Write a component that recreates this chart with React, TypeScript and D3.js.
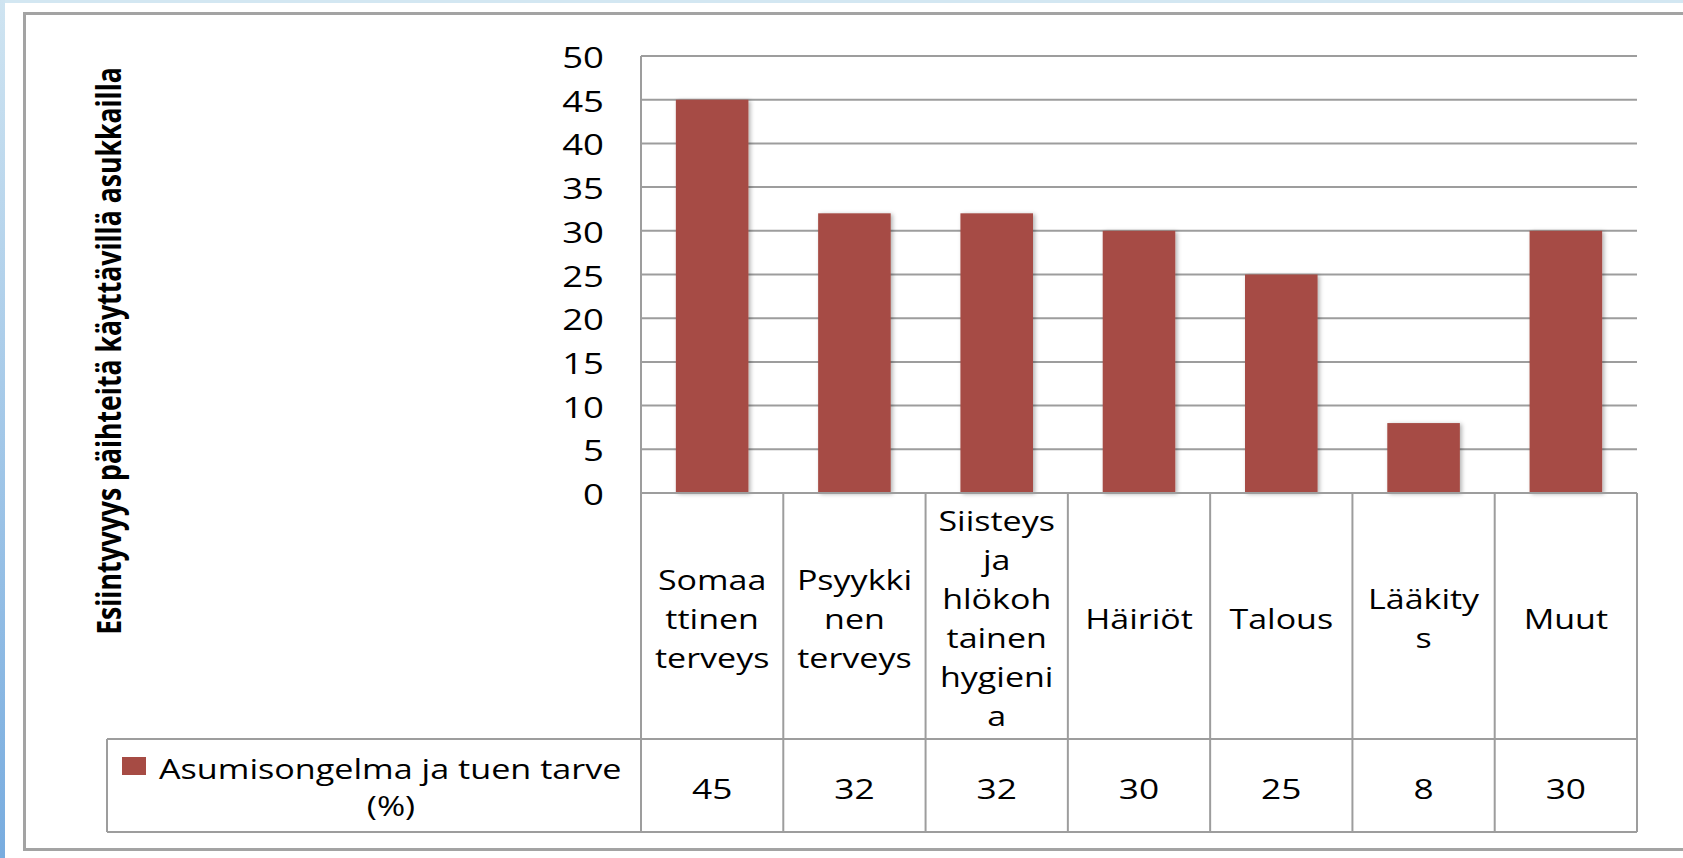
import React from 'react'
import * as d3 from 'd3'

const categories = [
  'Somaattinen terveys',
  'Psyykkinen terveys',
  'Siisteys ja hlökohtainen hygienia',
  'Häiriöt',
  'Talous',
  'Lääkitys',
  'Muut',
]
// labels as wrapped in the table cells
const categoryLines = [
  ['Somaa', 'ttinen', 'terveys'],
  ['Psyykki', 'nen', 'terveys'],
  ['Siisteys', 'ja', 'hlökoh', 'tainen', 'hygieni', 'a'],
  ['Häiriöt'],
  ['Talous'],
  ['Lääkity', 's'],
  ['Muut'],
]
const values = [45, 32, 32, 30, 25, 8, 30]
const yTickValues = [0, 5, 10, 15, 20, 25, 30, 35, 40, 45, 50]
const seriesName = 'Asumisongelma ja tuen tarve'
const seriesUnit = '(%)'
const yTitle = 'Esiintyvyys päihteitä käyttävillä asukkailla'

const W = 1683
const H = 858
const plotLeft = 641
const plotRight = 1637
const plotTop = 56
const plotBottom = 493
const rowSplit = 739
const tableBottom = 832
const legendLeft = 107

const FONT = "'Open Sans', 'Noto Sans', sans-serif"
const GRID = '#9d9d9d'
const BAR = '#a64b44'
const SX = 1.26 // the source picture is stretched sideways

const SText = ({ x, y, sx = SX, anchor = 'middle', size = 28, weight = 400, children }) => (
  <text
    transform={`translate(${x},${y}) scale(${sx},1)`}
    textAnchor={anchor}
    fontSize={size}
    fontWeight={weight}
    fontFamily={FONT}
    fill="#000"
  >
    {children}
  </text>
)

export default function App() {
  const x = d3
    .scaleBand()
    .domain(categories)
    .range([plotLeft, plotRight])
    .paddingInner(0.49)
    .paddingOuter(0.245)
  const col = d3.scaleBand().domain(categories).range([plotLeft, plotRight])
  const y = d3.scaleLinear().domain([0, 50]).range([plotBottom, plotTop])

  const lineH = 39
  const labelMid = 628.5

  return (
    <svg
      width={W}
      height={H}
      style={{ position: 'absolute', left: 0, top: 0, display: 'block', background: '#fff' }}
    >
      <defs>
        <linearGradient id="edge" x1="0" y1="0" x2="0" y2="1">
          <stop offset="0" stopColor="#cfe4f1" />
          <stop offset="1" stopColor="#78acdf" />
        </linearGradient>
        <filter id="shadow" x="-20%" y="-5%" width="150%" height="115%">
          <feDropShadow dx="2" dy="1" stdDeviation="2" floodColor="#000" floodOpacity="0.3" />
        </filter>
      </defs>

      <rect x={0} y={0} width={W} height={3} fill="#d3e7f2" />
      <rect x={0} y={0} width={5} height={H} fill="url(#edge)" />

      {/* outer frame, runs past the right edge */}
      <rect x={24.5} y={13.5} width={W + 20} height={836} fill="none" stroke="#a3a3a3" strokeWidth={3} />

      {/* gridlines */}
      {yTickValues.map((t) => (
        <line key={t} x1={plotLeft} x2={plotRight} y1={y(t)} y2={y(t)} stroke={GRID} strokeWidth={2} />
      ))}
      <line x1={plotLeft} x2={plotLeft} y1={plotTop} y2={plotBottom} stroke={GRID} strokeWidth={2} />

      {/* y tick labels */}
      {yTickValues.map((t) => (
        <SText key={t} x={604} y={y(t) + 12} anchor="end" size={29}>
          {t}
        </SText>
      ))}

      {/* bars */}
      {categories.map((c, i) => (
        <rect
          key={c}
          x={x(c)}
          y={y(values[i])}
          width={x.bandwidth()}
          height={y(0) - y(values[i])}
          fill={BAR}
          filter="url(#shadow)"
        />
      ))}

      {/* data table */}
      <g stroke={GRID} strokeWidth={2}>
        <line x1={plotLeft} x2={plotRight} y1={plotBottom} y2={plotBottom} />
        <line x1={legendLeft} x2={plotRight} y1={rowSplit} y2={rowSplit} />
        <line x1={legendLeft} x2={plotRight} y1={tableBottom} y2={tableBottom} />
        <line x1={legendLeft} x2={legendLeft} y1={rowSplit} y2={tableBottom} />
        {categories.map((c) => (
          <line key={c} x1={col(c)} x2={col(c)} y1={plotBottom} y2={tableBottom} />
        ))}
        <line x1={plotRight} x2={plotRight} y1={plotBottom} y2={tableBottom} />
      </g>

      {categories.map((c, i) => {
        const cx = col(c) + col.bandwidth() / 2
        const lines = categoryLines[i]
        return (
          <g key={c}>
            {lines.map((ln, j) => (
              <SText key={j} x={cx} y={labelMid + (j - (lines.length - 1) / 2) * lineH} size={27}>
                {ln}
              </SText>
            ))}
            <SText x={cx} y={799} size={28}>
              {values[i]}
            </SText>
          </g>
        )
      })}

      {/* legend key in the table */}
      <rect x={122} y={757} width={24} height={18} fill={BAR} />
      <SText x={159} y={778.5} anchor="start" size={28} sx={1.22}>
        {seriesName}
      </SText>
      <SText x={391} y={816} size={28} sx={1.22}>
        {seriesUnit}
      </SText>

      {/* y axis title */}
      <text
        transform={`translate(121,351) scale(1.25,1) rotate(-90)`}
        textAnchor="middle"
        fontSize={26.6}
        fontWeight={700}
        fontFamily={FONT}
        fill="#000"
      >
        {yTitle}
      </text>
    </svg>
  )
}
